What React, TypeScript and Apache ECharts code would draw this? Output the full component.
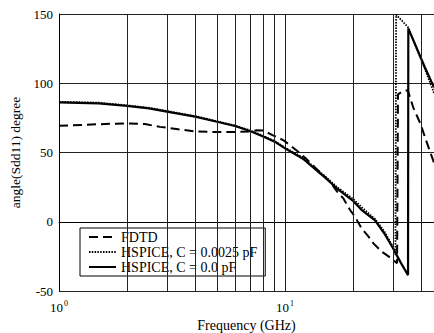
import React, { useEffect, useRef } from 'react';
import * as echarts from 'echarts';

// FDTD (dashed)
const fdtdFreq = [1, 1.3, 1.6, 2, 2.4, 2.8, 3.3, 4, 5, 6, 7, 7.5, 8, 8.8, 9.8, 10.5, 11.4, 12.3, 14, 15.8, 17, 18.1, 19.4, 20.4, 21.8, 23.4, 24.6, 26.8, 28.7, 30.2, 31.3, 31.6, 33, 34.9, 37, 39.7, 42, 45.6];
const fdtdDeg = [69.3, 70, 70.6, 71, 70.5, 68.5, 67, 65.2, 64.8, 64.8, 65.2, 66, 65.9, 62.6, 59, 55.4, 50.7, 46, 37, 29, 21.7, 16.9, 8.5, 3.6, -4.7, -10.8, -15.6, -21.6, -25, -28, -30, 92, 94, 95, 82, 70.9, 59, 42.6];

// HSPICE, C = 0.0025 pF (dotted)
const c25Freq = [1, 1.5, 2, 2.5, 3, 4, 5, 6, 7, 8, 9, 10, 12, 15, 17, 20, 22, 25, 27.5, 30, 30.8, 31.0, 34.9, 38, 41.7, 45.6];
const c25Deg = [86.6, 86, 84, 82.3, 80, 76.3, 72.6, 69.5, 66, 62, 58.3, 53.5, 46.3, 33, 25, 16.5, 10, 2, -7, -18, -24, 149.5, 140.8, 126, 109.6, 93];

// HSPICE, C = 0.0 pF (solid)
const c0Freq = [1, 1.5, 2, 2.5, 3, 4, 5, 6, 7, 8, 9, 10, 12, 15, 17, 20, 22, 25, 27.5, 30, 32.5, 35, 35.1, 38, 41.5, 45.6];
const c0Deg = [86.2, 85.5, 83.6, 81.9, 79.5, 75.9, 72.2, 69.1, 65.5, 61.6, 57.8, 53, 45.5, 32, 24, 15, 8, 1, -8.5, -19, -29.5, -38.5, 139.5, 126.4, 111.7, 97];

const gridFreqs = [2, 3, 4, 5, 6, 7, 8, 9, 20, 30, 40];
const yMin = -50;
const yMax = 150;
const yStep = 50;
const xMin = 1;
const xMax = 45.6;

const seriesNames = ['FDTD', 'HSPICE, C = 0.0025 pF', 'HSPICE, C = 0.0 pF'];

const FONT = "'Liberation Serif', 'Times New Roman', serif";

const zip = (f: number[], v: number[]) => f.map((x, i) => [x, v[i]]);

export default function App() {
  const ref = useRef<HTMLDivElement>(null);
  useEffect(() => {
    const chart = echarts.init(ref.current!, null, { renderer: 'svg' });
    chart.setOption({
      animation: false,
      backgroundColor: '#fff',
      textStyle: { fontFamily: FONT, color: '#000' },
      grid: { left: 59, top: 14, right: 0, bottom: 42, containLabel: false, outerBoundsMode: 'none' },
      xAxis: {
        type: 'log',
        logBase: 10,
        min: xMin,
        max: xMax,
        name: 'Frequency (GHz)',
        nameLocation: 'middle',
        nameGap: 25,
        nameTextStyle: { fontFamily: FONT, fontSize: 14, color: '#000' },
        axisLine: { show: true, lineStyle: { color: '#000', width: 1 } },
        axisTick: { show: false },
        minorTick: { show: false },
        axisLabel: {
          margin: 8,
          formatter: (v: number) => {
            const l = Math.log10(v);
            if (Math.abs(l - Math.round(l)) > 1e-6) return '';
            return `{b|10}{s|${Math.round(l)}}`;
          },
          rich: {
            b: { fontFamily: FONT, fontSize: 13, color: '#000' },
            s: { fontFamily: FONT, fontSize: 8, color: '#000', padding: [0, 0, 8, 1] },
          },
        },
        splitLine: { show: true, lineStyle: { color: '#222', width: 1 } },
      },
      yAxis: {
        type: 'value',
        min: yMin,
        max: yMax,
        interval: yStep,
        name: 'angle(Sdd11) degree',
        nameLocation: 'middle',
        nameGap: 27,
        nameRotate: 90,
        nameTextStyle: { fontFamily: FONT, fontSize: 13.5, color: '#000' },
        axisLine: { show: true, lineStyle: { color: '#000', width: 1 } },
        axisTick: { show: false },
        axisLabel: { margin: 6, fontFamily: FONT, fontSize: 13, color: '#000' },
        splitLine: { show: true, lineStyle: { color: '#222', width: 1 } },
      },
      legend: {
        data: seriesNames,
        orient: 'vertical',
        left: 80,
        top: 228,
        itemWidth: 27,
        itemHeight: 14,
        itemGap: 1,
        padding: [2, 8, 2, 8],
        backgroundColor: '#fff',
        borderColor: '#000',
        borderWidth: 1,
        borderRadius: 0,
        itemStyle: { opacity: 0 },
        textStyle: { fontFamily: FONT, fontSize: 14, color: '#000' },
      },
      series: [
        {
          name: 'grid',
          type: 'line',
          data: [],
          z: 1,
          silent: true,
          markLine: {
            silent: true,
            symbol: ['none', 'none'],
            label: { show: false },
            lineStyle: { color: '#222', width: 1, type: 'solid' },
            emphasis: { disabled: true },
            data: gridFreqs.map((f) => ({ xAxis: f })),
          },
        },
        {
          name: seriesNames[0],
          type: 'line',
          data: zip(fdtdFreq, fdtdDeg),
          symbol: 'none',
          z: 3,
          silent: true,
          itemStyle: { color: '#000' },
          lineStyle: { color: '#000', width: 2, type: [9, 5] },
        },
        {
          name: seriesNames[1],
          type: 'line',
          data: zip(c25Freq, c25Deg),
          symbol: 'none',
          z: 3,
          silent: true,
          itemStyle: { color: '#000' },
          lineStyle: { color: '#000', width: 1.8, type: [1.5, 1.3] },
        },
        {
          name: seriesNames[2],
          type: 'line',
          data: zip(c0Freq, c0Deg),
          symbol: 'none',
          z: 3,
          silent: true,
          itemStyle: { color: '#000' },
          lineStyle: { color: '#000', width: 2.2, type: 'solid' },
        },
      ],
    });
    return () => chart.dispose();
  }, []);
  return (
    <div
      ref={ref}
      style={{ position: 'fixed', left: 0, top: 0, width: 434, height: 333, background: '#fff' }}
    />
  );
}
